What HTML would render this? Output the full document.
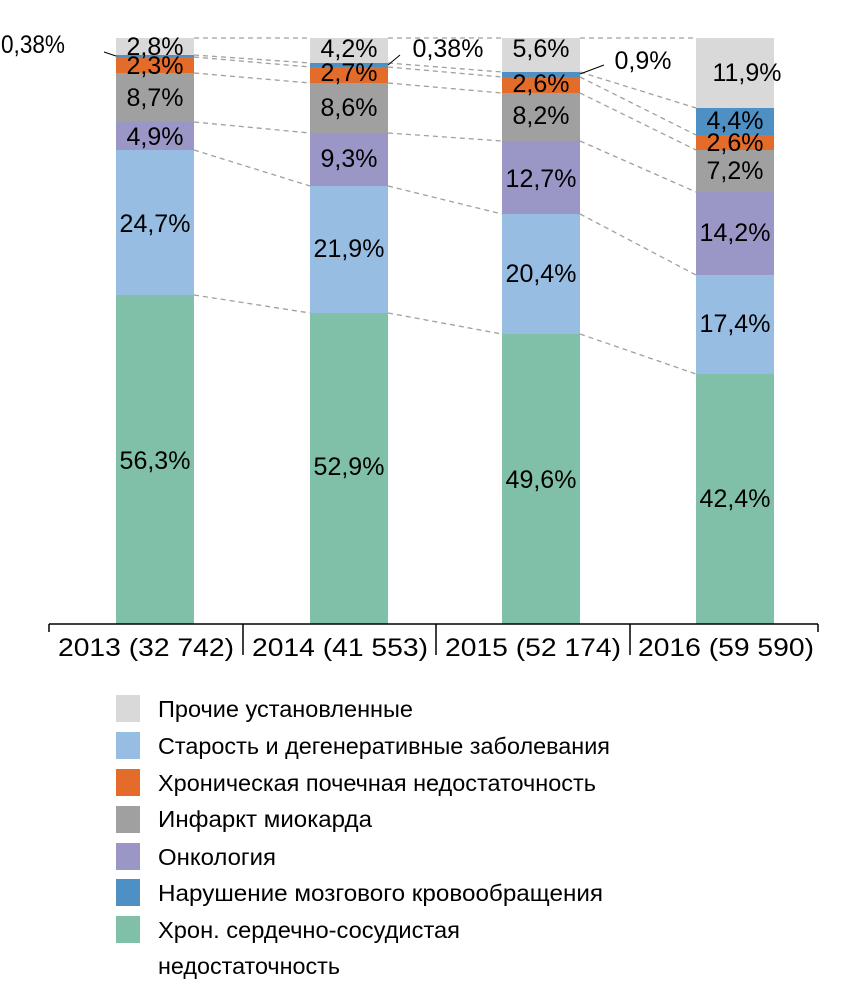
<!DOCTYPE html>
<html><head><meta charset="utf-8"><style>
html,body{margin:0;padding:0;background:#fff;}
svg text{font-family:"Liberation Sans",sans-serif;fill:#000;}
</style></head><body>
<svg width="849" height="991" xmlns="http://www.w3.org/2000/svg">
<g id="bars">
<rect x="116" y="38" width="78" height="17" fill="#d9d9d9"/>
<rect x="116" y="55" width="78" height="2" fill="#4e8fc4"/>
<rect x="116" y="57" width="78" height="16" fill="#e46c2a"/>
<rect x="116" y="73" width="78" height="49" fill="#a0a0a0"/>
<rect x="116" y="122" width="78" height="28" fill="#9a97c6"/>
<rect x="116" y="150" width="78" height="145" fill="#98bde2"/>
<rect x="116" y="295" width="78" height="329" fill="#80bfa8"/>
<rect x="310" y="38" width="78" height="25" fill="#d9d9d9"/>
<rect x="310" y="63" width="78" height="4" fill="#4e8fc4"/>
<rect x="310" y="67" width="78" height="16" fill="#e46c2a"/>
<rect x="310" y="83" width="78" height="50" fill="#a0a0a0"/>
<rect x="310" y="133" width="78" height="53" fill="#9a97c6"/>
<rect x="310" y="186" width="78" height="127" fill="#98bde2"/>
<rect x="310" y="313" width="78" height="311" fill="#80bfa8"/>
<rect x="502" y="38" width="78" height="34" fill="#d9d9d9"/>
<rect x="502" y="72" width="78" height="5" fill="#4e8fc4"/>
<rect x="502" y="77" width="78" height="16" fill="#e46c2a"/>
<rect x="502" y="93" width="78" height="48" fill="#a0a0a0"/>
<rect x="502" y="141" width="78" height="73" fill="#9a97c6"/>
<rect x="502" y="214" width="78" height="120" fill="#98bde2"/>
<rect x="502" y="334" width="78" height="290" fill="#80bfa8"/>
<rect x="696" y="38" width="78" height="70" fill="#d9d9d9"/>
<rect x="696" y="108" width="78" height="27" fill="#4e8fc4"/>
<rect x="696" y="135" width="78" height="15" fill="#e46c2a"/>
<rect x="696" y="150" width="78" height="42" fill="#a0a0a0"/>
<rect x="696" y="192" width="78" height="83" fill="#9a97c6"/>
<rect x="696" y="275" width="78" height="99" fill="#98bde2"/>
<rect x="696" y="374" width="78" height="250" fill="#80bfa8"/>
</g>
<g stroke="#a0a0a0" stroke-width="1.3" stroke-dasharray="5,4" fill="none">
<path d="M194 38L310 38M388 38L502 38M580 38L696 38"/>
<path d="M194 55L310 63M388 63L502 72M580 72L696 108"/>
<path d="M194 57L310 67M388 67L502 77M580 77L696 135"/>
<path d="M194 73L310 83M388 83L502 93M580 93L696 150"/>
<path d="M194 122L310 133M388 133L502 141M580 141L696 192"/>
<path d="M194 150L310 186M388 186L502 214M580 214L696 275"/>
<path d="M194 295L310 313M388 313L502 334M580 334L696 374"/>
</g>
<g stroke="#000" stroke-width="1" fill="none">
<path d="M104 52L116 56"/>
<path d="M400 55L388 65"/>
<path d="M604 65L580 74"/>
</g>
<text x="1" y="53" font-size="25" textLength="64" lengthAdjust="spacingAndGlyphs">0,38%</text>
<g font-size="25" text-anchor="middle">
<text x="155" y="55">2,8%</text>
<text x="155" y="74">2,3%</text>
<text x="155" y="106">8,7%</text>
<text x="155" y="145">4,9%</text>
<text x="155" y="232">24,7%</text>
<text x="155" y="469">56,3%</text>
<text x="349" y="57">4,2%</text>
<text x="349" y="81">2,7%</text>
<text x="349" y="116">8,6%</text>
<text x="349" y="167">9,3%</text>
<text x="349" y="257">21,9%</text>
<text x="349" y="475">52,9%</text>
<text x="448" y="57">0,38%</text>
<text x="541" y="57">5,6%</text>
<text x="541" y="92">2,6%</text>
<text x="541" y="124">8,2%</text>
<text x="541" y="187">12,7%</text>
<text x="541" y="282">20,4%</text>
<text x="541" y="488">49,6%</text>
<text x="643" y="69">0,9%</text>
<text x="747" y="81">11,9%</text>
<text x="735" y="129">4,4%</text>
<text x="735" y="151">2,6%</text>
<text x="735" y="179">7,2%</text>
<text x="735" y="241">14,2%</text>
<text x="735" y="332">17,4%</text>
<text x="735" y="507">42,4%</text>
</g>
<g stroke="#000" stroke-width="1.5">
<path d="M49 624L818 624"/>
<path d="M49 624V632M243 624V655M436 624V655M630 624V655M818 624V632"/>
</g>
<g font-size="25" text-anchor="middle">
<text x="146" y="656" textLength="176" lengthAdjust="spacingAndGlyphs">2013 (32 742)</text>
<text x="340" y="656" textLength="176" lengthAdjust="spacingAndGlyphs">2014 (41 553)</text>
<text x="533" y="656" textLength="176" lengthAdjust="spacingAndGlyphs">2015 (52 174)</text>
<text x="726" y="656" textLength="176" lengthAdjust="spacingAndGlyphs">2016 (59 590)</text>
</g>
<g>
<rect x="116" y="695" width="24" height="27" fill="#d9d9d9"/>
<rect x="116" y="732" width="24" height="27" fill="#98bde2"/>
<rect x="116" y="769" width="24" height="27" fill="#e46c2a"/>
<rect x="116" y="806" width="24" height="27" fill="#a0a0a0"/>
<rect x="116" y="843" width="24" height="27" fill="#9a97c6"/>
<rect x="116" y="879" width="24" height="27" fill="#4e8fc4"/>
<rect x="116" y="916" width="24" height="27" fill="#80bfa8"/>
</g>
<g font-size="23">
<text x="158" y="717" textLength="255" lengthAdjust="spacingAndGlyphs">Прочие установленные</text>
<text x="158" y="754" textLength="452" lengthAdjust="spacingAndGlyphs">Старость и дегенеративные заболевания</text>
<text x="158" y="791" textLength="438" lengthAdjust="spacingAndGlyphs">Хроническая почечная недостаточность</text>
<text x="158" y="827" textLength="214" lengthAdjust="spacingAndGlyphs">Инфаркт миокарда</text>
<text x="158" y="865" textLength="118" lengthAdjust="spacingAndGlyphs">Онкология</text>
<text x="158" y="901" textLength="445" lengthAdjust="spacingAndGlyphs">Нарушение мозгового кровообращения</text>
<text x="158" y="938" textLength="302" lengthAdjust="spacingAndGlyphs">Хрон. сердечно-сосудистая</text>
<text x="158" y="974" textLength="182" lengthAdjust="spacingAndGlyphs">недостаточность</text>
</g>
</svg>
</body></html>
